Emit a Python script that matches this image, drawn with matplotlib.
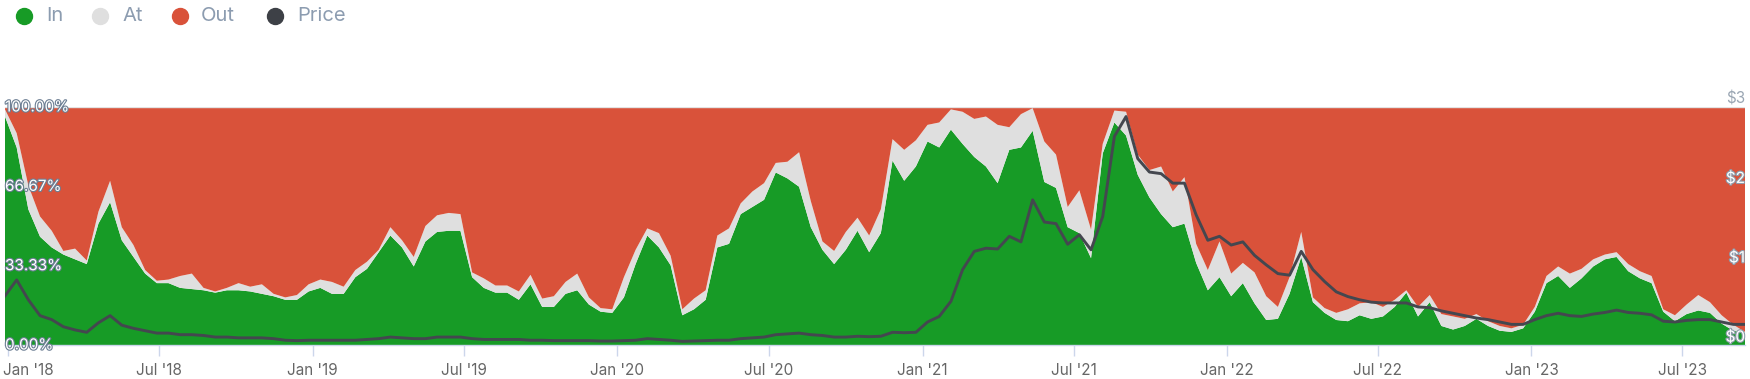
import matplotlib
matplotlib.use("Agg")
import matplotlib.pyplot as plt
import matplotlib.dates as mdates
import matplotlib.patheffects as pe
import matplotlib.transforms as mtransforms
from matplotlib.lines import Line2D
import numpy as np
import pandas as pd

plt.rcParams['font.family'] = ['Inter', 'DejaVu Sans']

# === Data (biweekly) ===
dates = pd.date_range("2017-12-28", periods=150, freq="14D")

in_pct = [
    96, 83, 57, 45.5, 41, 38, 36, 34, 51, 60,
    44, 37, 30, 26, 26, 24, 23.5, 23, 22, 23,
    23, 22.5, 21.5, 20.5, 19, 19, 22.5, 24, 21.5, 21.5,
    28.5, 32, 39, 46, 41, 33, 43.5, 47.5, 48, 48,
    28.5, 24, 22, 22, 19, 25.5, 16, 16, 21.5, 23,
    17, 14, 13.5, 20, 34, 46, 41, 33.5, 12.5, 15,
    19, 41, 42.5, 55, 58, 61, 72.5, 70, 66.5, 49.5,
    40, 34, 40, 48, 39, 47, 77.5, 69, 75, 85.5,
    83, 90.5, 84.5, 79, 75, 68, 82, 83, 90, 68.5,
    66, 49.5, 47, 36.5, 80.5, 93.5, 88, 71.5, 62, 55,
    49.5, 51, 34.5, 23, 28.5, 20.5, 26, 17.5, 10.5, 11,
    21.5, 37, 18, 13.5, 10.5, 10, 12.5, 11, 12, 16,
    22, 12, 18, 8, 6.5, 8, 11, 8, 6, 5.5,
    7, 14, 26, 29, 24, 28, 33, 36, 37, 31,
    28, 26, 14, 10, 13, 14.5, 13.5, 9, 6, 5,
]

at_pct = [
    3, 6, 10, 8.5, 7, 1.5, 4.5, 1.5, 5, 9,
    5.5, 5, 1.5, 1, 1.5, 5, 6.5, 1, 0.5, 1,
    3, 2, 4, 1, 1, 2, 3, 3.5, 5, 3,
    3, 3, 1, 3.5, 3, 4, 6.5, 7, 7.5, 7,
    2, 4, 3, 3, 3.5, 4, 3.5, 4.5, 5, 7,
    3, 1.5, 1.5, 8.5, 6, 3, 6, 4, 2.5, 4.5,
    4, 5, 6.5, 4.5, 6.5, 7, 4, 7, 14.5, 11,
    3.5, 5.5, 7.5, 5.5, 7, 10, 9, 13, 11, 7,
    10.5, 8.5, 13.5, 16, 21, 24.5, 9.5, 14, 9.5, 17,
    14, 8.5, 18, 12, 4, 5, 10, 8.5, 11.5, 20,
    15, 19.5, 8, 8.5, 15, 9.5, 8.5, 13, 10, 5,
    7, 10.5, 2, 2, 3, 5, 5, 7, 4, 3,
    1, 4, 3, 5, 5.5, 3, 2, 2, 2, 1.5,
    1.5, 2, 3, 4, 6, 4, 3, 2, 2, 3,
    3, 3, 1, 2.5, 4, 6.5, 4.5, 3.5, 2.5, 0.5,
]

price = [
    0.62, 0.82, 0.57, 0.37, 0.32, 0.23, 0.19, 0.16, 0.28, 0.37,
    0.25, 0.21, 0.18, 0.15, 0.15, 0.13, 0.13, 0.12, 0.10, 0.10,
    0.09, 0.09, 0.09, 0.08, 0.06, 0.055, 0.06, 0.06, 0.06, 0.06,
    0.06, 0.07, 0.08, 0.10, 0.09, 0.08, 0.08, 0.10, 0.10, 0.10,
    0.08, 0.07, 0.07, 0.07, 0.07, 0.06, 0.06, 0.055, 0.055, 0.055,
    0.055, 0.05, 0.05, 0.055, 0.06, 0.08, 0.07, 0.06, 0.046, 0.05,
    0.055, 0.06, 0.06, 0.08, 0.09, 0.10, 0.13, 0.14, 0.15, 0.13,
    0.12, 0.10, 0.10, 0.11, 0.105, 0.11, 0.16, 0.155, 0.16, 0.29,
    0.36, 0.55, 0.95, 1.18, 1.22, 1.21, 1.37, 1.30, 1.83, 1.55,
    1.53, 1.27, 1.39, 1.20, 1.62, 2.63, 2.88, 2.35, 2.18, 2.16,
    2.04, 2.04, 1.64, 1.32, 1.37, 1.26, 1.30, 1.13, 1.01, 0.90,
    0.88, 1.18, 0.95, 0.80, 0.67, 0.61, 0.57, 0.54, 0.53, 0.53,
    0.53, 0.48, 0.47, 0.43, 0.40, 0.37, 0.34, 0.32, 0.29, 0.26,
    0.26, 0.32, 0.37, 0.40, 0.37, 0.36, 0.39, 0.41, 0.44, 0.41,
    0.40, 0.38, 0.30, 0.29, 0.31, 0.32, 0.32, 0.29, 0.26, 0.26,
]

in_arr = np.array(in_pct)
at_arr = np.array(at_pct)
out_arr = 100 - in_arr - at_arr

pct_ticks = [0, 100 / 3, 200 / 3, 100]
pct_labels = ["0.00%", "33.33%", "66.67%", "100.00%"]
price_ticks = [0, 1, 2, 3]
price_labels = ["$0", "$1", "$2", "$3"]

legend_names = ["In", "At", "Out", "Price"]

# === Style ===
GREEN = "#179b26"
GRAY = "#dfdfdf"
RED = "#d9523a"
PRICE_C = "#44474f"
LEGEND_TXT = "#8c9cb0"

W, H = 1750, 379
fig = plt.figure(figsize=(W / 100, H / 100), dpi=100)
ax = fig.add_axes([5 / W, (H - 345) / H, 1740 / W, 238 / H])

ax.stackplot(dates, in_arr, at_arr, out_arr, colors=[GREEN, GRAY, RED],
             linewidth=0, antialiased=True)
ax.set_xlim(dates[0], dates[-1])
ax.set_ylim(0, 100)
ax.axhline(100, color="#e3e3e3", lw=1, zorder=3)

for s in ["top", "left", "right"]:
    ax.spines[s].set_visible(False)
ax.spines["bottom"].set_color("#ccd6eb")
ax.spines["bottom"].set_linewidth(1)

ax.set_yticks([])
ax.xaxis.set_major_locator(mdates.MonthLocator(bymonth=[1, 7]))
ax.xaxis.set_major_formatter(mdates.DateFormatter("%b '%y"))
ax.tick_params(axis="x", length=8, width=1, color="#ccd6eb",
               labelsize=11, labelcolor="#666666", pad=5)

# first label is pushed right so it stays inside the figure
fig.canvas.draw()
first = ax.get_xticklabels()[0]
first.set_horizontalalignment("left")
first.set_transform(first.get_transform() +
                    mtransforms.ScaledTranslation(-5 / 100, 0, fig.dpi_scale_trans))

# hollow-looking axis labels (white fill, thin grey outline)
outline = [pe.Stroke(linewidth=1.6, foreground="#6d7f94"), pe.Normal()]
ytrans = ax.get_yaxis_transform()
for v, lab in zip(pct_ticks, pct_labels):
    ax.text(0.0, v, lab, transform=ytrans, ha="left", va="center",
            fontsize=11, color="white", path_effects=outline, zorder=6)

ax2 = ax.twinx()
ax2.set_ylim(0, 3)
ax2.plot(dates, price, color=PRICE_C, lw=2.1, zorder=5, solid_joinstyle="round")
ax2.set_yticks([])
for s in ax2.spines.values():
    s.set_visible(False)
ytrans2 = ax2.get_yaxis_transform()
outline2 = [pe.Stroke(linewidth=1.6, foreground="#8e9cab"), pe.Normal()]
for v, lab in zip(price_ticks, price_labels):
    if v == 3:
        ax2.text(1.0, v + 0.005, lab, transform=ytrans2, ha="right", va="bottom",
                 fontsize=11, color="#9aa6b3", zorder=6)
    else:
        ax2.text(1.0, v + 0.005, lab, transform=ytrans2, ha="right", va="bottom",
                 fontsize=11, color="white", path_effects=outline2, zorder=6)

# legend along the top
legend_colors = [GREEN, GRAY, RED, "#3d4046"]
dot_x = [24, 100, 180, 275]
txt_x = [46, 122, 201, 297]
ly = 1 - 16 / H
for name, c, dx, tx in zip(legend_names, legend_colors, dot_x, txt_x):
    fig.add_artist(Line2D([dx / W], [ly], transform=fig.transFigure, marker="o",
                          markersize=11.5, color=c, linestyle=""))
    fig.text(tx / W, ly, name, ha="left", va="center", fontsize=14.5,
             color=LEGEND_TXT)

fig.savefig("out.png", dpi=100)
